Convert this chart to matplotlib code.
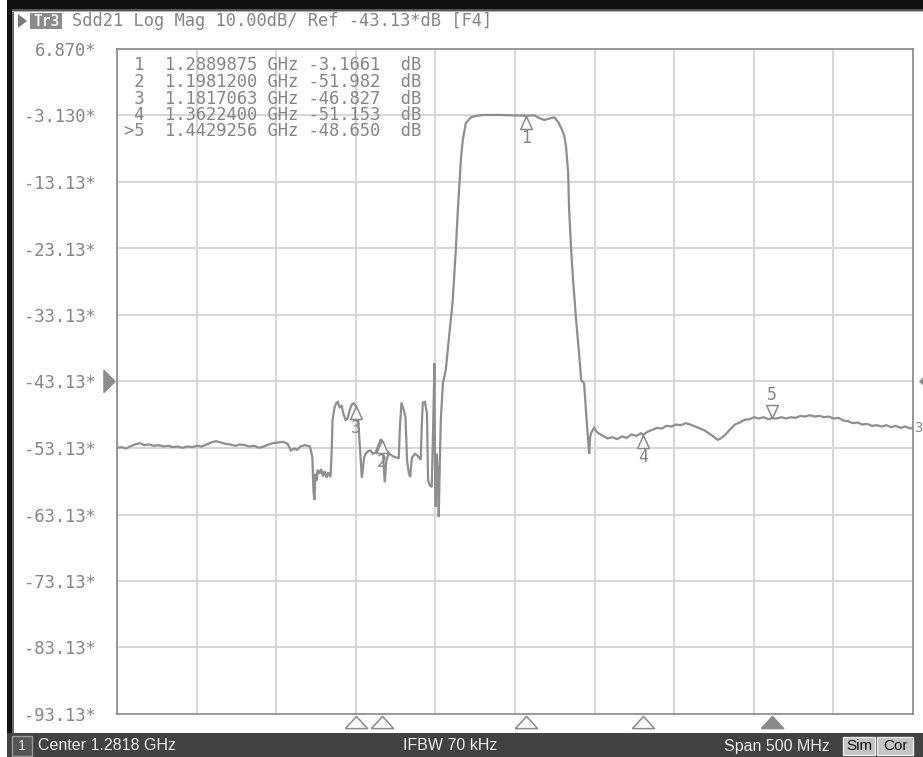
import matplotlib
matplotlib.use("Agg")
import matplotlib.pyplot as plt
from matplotlib.patches import Rectangle, Polygon
from matplotlib.path import Path
import matplotlib.transforms as mtransforms

# ---------------- data ----------------
center_ghz = 1.2818
span_ghz = 0.5
ref_level_db = -43.13
scale_db = 10.0
n_div = 10

trace_freq_ghz = [
    1.0318, 1.0345, 1.0375, 1.0400, 1.0430, 1.0460, 1.0490, 1.0520, 1.0550, 1.0580,
    1.0610, 1.0640, 1.0670, 1.0700, 1.0730, 1.0760, 1.0790, 1.0820, 1.0850, 1.0880,
    1.0910, 1.0940, 1.0970, 1.1000, 1.1030, 1.1060, 1.1090, 1.1120, 1.1150, 1.1180,
    1.1210, 1.1240, 1.1270, 1.1300, 1.1330, 1.1360, 1.1390, 1.1410, 1.1430, 1.1450,
    1.1470, 1.1500, 1.1530, 1.1545, 1.1552, 1.1558, 1.1565, 1.1572, 1.1578, 1.1590,
    1.1600, 1.1612, 1.1622, 1.1634, 1.1645, 1.1659, 1.1666, 1.1672, 1.1685, 1.1697,
    1.1705, 1.1716, 1.1729, 1.1740, 1.1754, 1.1766, 1.1779, 1.1792, 1.1804, 1.1817,
    1.1830, 1.1840, 1.1848, 1.1856, 1.1861, 1.1870, 1.1880, 1.1895, 1.1911, 1.1925,
    1.1943, 1.1962, 1.1974, 1.1981, 1.1990, 1.2000, 1.2010, 1.2025, 1.2040, 1.2056,
    1.2075, 1.2088, 1.2095, 1.2105, 1.2119, 1.2130, 1.2140, 1.2151, 1.2160, 1.2170,
    1.2190, 1.2207, 1.2226, 1.2232, 1.2239, 1.2252, 1.2265, 1.2272, 1.2282, 1.2295,
    1.2302, 1.2308, 1.2312, 1.2316, 1.2320, 1.2326, 1.2332, 1.2339, 1.2346, 1.2352,
    1.2365, 1.2383, 1.2402, 1.2427, 1.2446, 1.2459, 1.2478, 1.2490, 1.2509, 1.2541,
    1.2572, 1.2616, 1.2730, 1.2890, 1.2938, 1.2969, 1.3001, 1.3032, 1.3064, 1.3089,
    1.3108, 1.3127, 1.3139, 1.3152, 1.3158, 1.3171, 1.3183, 1.3202, 1.3221, 1.3234,
    1.3252, 1.3265, 1.3278, 1.3284, 1.3290, 1.3297, 1.3315, 1.3328, 1.3341, 1.3370,
    1.3400, 1.3430, 1.3460, 1.3490, 1.3520, 1.3550, 1.3580, 1.3610, 1.3622, 1.3650,
    1.3680, 1.3710, 1.3740, 1.3770, 1.3800, 1.3830, 1.3860, 1.3890, 1.3920, 1.3950,
    1.3980, 1.4010, 1.4040, 1.4070, 1.4090, 1.4110, 1.4140, 1.4170, 1.4200, 1.4230,
    1.4260, 1.4290, 1.4320, 1.4350, 1.4380, 1.4410, 1.4429, 1.4460, 1.4490, 1.4520,
    1.4550, 1.4580, 1.4610, 1.4640, 1.4670, 1.4700, 1.4730, 1.4760, 1.4790, 1.4820,
    1.4850, 1.4880, 1.4910, 1.4940, 1.4970, 1.5000, 1.5030, 1.5060, 1.5090, 1.5120,
    1.5150, 1.5180, 1.5210, 1.5240, 1.5270, 1.5300, 1.5318,
]
trace_db = [
    -53.1, -53.0, -53.2, -52.9, -52.6, -52.4, -52.7, -52.6, -52.8, -52.7,
    -52.9, -52.8, -53.0, -52.9, -53.1, -52.9, -53.0, -52.8, -52.9, -52.6,
    -52.3, -52.1, -52.3, -52.5, -52.6, -52.8, -52.6, -52.7, -52.9, -52.8,
    -53.1, -52.9, -52.6, -52.4, -52.3, -52.2, -52.5, -53.5, -53.2, -53.4,
    -52.9, -52.7, -52.9, -54.5, -59.5, -60.9, -57.0, -58.0, -56.4, -57.0,
    -56.3, -57.4, -56.6, -57.6, -56.8, -57.5, -54.0, -48.9, -47.0, -46.3,
    -46.2, -47.0, -46.8, -48.0, -48.9, -48.7, -47.5, -46.6, -46.4, -46.8,
    -47.8, -51.5, -54.5, -57.6, -56.5, -54.6, -54.0, -53.6, -53.5, -54.0,
    -53.8, -52.6, -51.9, -51.98, -54.6, -58.3, -55.0, -53.9, -54.2, -54.4,
    -54.6, -54.6, -50.0, -46.3, -47.4, -48.5, -55.0, -56.9, -57.5, -54.6,
    -54.0, -54.3, -54.9, -50.0, -46.3, -46.2, -47.9, -58.0, -58.7, -59.0,
    -52.0, -44.9, -40.4, -58.0, -62.0, -54.0, -56.4, -63.5, -55.0, -48.9,
    -43.4, -41.4, -36.9, -30.9, -23.4, -17.3, -9.8, -6.8, -4.3, -3.4,
    -3.2, -3.05, -3.05, -3.17, -3.1, -3.5, -3.8, -3.6, -3.4, -4.1,
    -5.0, -6.1, -7.9, -11.8, -17.3, -23.4, -27.9, -33.9, -39.1, -42.9,
    -43.4, -48.0, -52.0, -54.0, -51.5, -50.8, -50.1, -50.6, -50.9, -51.3,
    -51.7, -51.5, -51.8, -51.4, -51.6, -51.1, -51.3, -50.9, -51.15, -50.7,
    -50.4, -50.1, -50.2, -49.8, -49.9, -49.6, -49.7, -49.4, -49.6, -49.9,
    -50.2, -50.5, -51.0, -51.5, -51.9, -51.7, -51.1, -50.3, -49.6, -49.3,
    -48.9, -48.8, -48.5, -48.7, -48.5, -48.8, -48.65, -48.7, -48.5, -48.7,
    -48.5, -48.6, -48.3, -48.4, -48.2, -48.4, -48.3, -48.5, -48.4, -48.7,
    -48.6, -49.0, -49.1, -49.4, -49.3, -49.6, -49.5, -49.8, -49.7, -49.9,
    -49.7, -50.0, -49.8, -50.1, -49.9, -50.2, -50.1,
]

marker_ids = ["1", "2", "3", "4", "5"]
marker_freq_ghz = [1.2889875, 1.1981200, 1.1817063, 1.3622400, 1.4429256]
marker_db = [-3.1661, -51.982, -46.827, -51.153, -48.650]
active_marker = "5"

header_text = "Sdd21 Log Mag 10.00dB/ Ref -43.13*dB [F4]"
trace_name = "Tr3"
trace_number = "3"
status_center = "Center 1.2818 GHz"
status_ifbw = "IFBW 70 kHz"
status_span = "Span 500 MHz"
status_flags = ["Sim", "Cor"]
channel_label = "1"

# ---------------- figure ----------------
W, H = 923, 757
fig = plt.figure(figsize=(W / 100, H / 100), dpi=100)
fig.patch.set_facecolor("white")

def fx(x):
    return x / W

def fy(y):
    return 1 - y / H

MONO = ["DejaVu Sans Mono"]
GRAY_TXT = "#858585"

# plot area
ax = fig.add_axes([fx(117), fy(714), 796 / W, 665 / H])
top_db = ref_level_db + scale_db * n_div / 2
bot_db = ref_level_db - scale_db * n_div / 2
f0 = center_ghz - span_ghz / 2
f1 = center_ghz + span_ghz / 2
ax.set_xlim(f0, f1)
ax.set_ylim(bot_db, top_db)

xgrid = [f0 + i * span_ghz / n_div for i in range(n_div + 1)]
ygrid = [top_db - i * scale_db for i in range(n_div + 1)]
ax.set_xticks(xgrid)
ax.set_xticklabels([])
ax.set_yticks(ygrid)
ylabels = []
for v in ygrid:
    s = "%.3f" % v if abs(v) < 10 else "%.2f" % v
    ylabels.append(s + "*")
ax.set_yticklabels(ylabels, family=MONO, fontsize=12.3, color=GRAY_TXT)
ax.tick_params(axis="both", length=0, pad=15)
ax.grid(True, color="#d3d3d3", lw=1.3)
ax.set_axisbelow(True)
for sp in ax.spines.values():
    sp.set_color("#8a8a8a")
    sp.set_linewidth(1.2)

ax.plot(trace_freq_ghz, trace_db, color="#8e8e8e", lw=1.6, zorder=3, solid_joinstyle="miter")

# markers on trace
tri_up = Path([(0, 0), (-0.45, -1), (0.45, -1), (0, 0)])
tri_dn = Path([(0, 0), (-0.45, 1), (0.45, 1), (0, 0)])
px2pt = 72 / 100
for mid, mf, md in zip(marker_ids, marker_freq_ghz, marker_db):
    if mid == active_marker:
        ax.plot([mf], [md], marker=tri_dn, ms=18.7, mfc="white", mec="#8a8a8a", mew=1.1,
                zorder=5, clip_on=False)
        ax.annotate(mid, (mf, md), xytext=(0, 23 * px2pt), textcoords="offset points",
                    ha="center", va="center", family=MONO, fontsize=12, color=GRAY_TXT, zorder=6)
    else:
        ax.plot([mf], [md], marker=tri_up, ms=18.7, mfc="white", mec="#8a8a8a", mew=1.1,
                zorder=5, clip_on=False)
        ax.annotate(mid, (mf, md), xytext=(0, -22 * px2pt), textcoords="offset points",
                    ha="center", va="center", family=MONO, fontsize=12, color=GRAY_TXT, zorder=6)

# stimulus-axis marker triangles below the grid
bt = mtransforms.blended_transform_factory(ax.transData, ax.transAxes)
flat_tri = Path([(-1, -0.55), (1, -0.55), (0, 0.55), (-1, -0.55)])
for mid, mf in zip(marker_ids, marker_freq_ghz):
    filled = (mid == active_marker)
    ax.plot([mf], [-8 / 665], marker=flat_tri, ms=16, transform=bt, clip_on=False,
            mfc="#8a8a8a" if filled else "white", mec="#8a8a8a", mew=1.1, zorder=5)

# reference level arrows
bt2 = mtransforms.blended_transform_factory(ax.transAxes, ax.transData)
arr_r = Path([(-0.5, -1), (0.5, 0), (-0.5, 1), (-0.5, -1)])
arr_l = Path([(0.5, -1), (-0.5, 0), (0.5, 1), (0.5, -1)])
ax.plot([-8 / 796], [ref_level_db], marker=arr_r, ms=16, transform=bt2, clip_on=False,
        mfc="#8c8c8c", mec="#8c8c8c", zorder=5)
ax.plot([(925 - 117) / 796], [ref_level_db], marker=arr_l, ms=16, transform=bt2, clip_on=False,
        mfc="#8c8c8c", mec="#8c8c8c", zorder=5)
# trace number at end of trace
ax.annotate(trace_number, (f1, trace_db[-1]), xytext=(0.5, 0), textcoords="offset points",
            ha="left", va="center", family=MONO, fontsize=10, color=GRAY_TXT,
            annotation_clip=False)

# marker table
for i, (mid, mf, md) in enumerate(zip(marker_ids, marker_freq_ghz, marker_db)):
    prefix = ">" if mid == active_marker else " "
    if abs(md) < 10:
        vs = "%.4f" % md
    else:
        vs = "%.3f" % md
    row = "%s%s  %.7f GHz %s  dB" % (prefix, mid, mf, vs)
    fig.text(fx(124), fy(65.5 + i * 16.5), row, family=MONO, fontsize=12.3, color=GRAY_TXT,
             ha="left", va="center")

# ---------------- frame decorations ----------------
def rect(x0, y0, x1, y1, fc, ec="none", lw=0, z=0):
    r = Rectangle((fx(x0), fy(y1)), (x1 - x0) / W, (y1 - y0) / H, transform=fig.transFigure,
                  facecolor=fc, edgecolor=ec, lw=lw, zorder=z)
    fig.patches.append(r)

# top dark bar
rect(7, 0, 923, 9, "#111111")
rect(7, 9, 923, 11, "#555555")
rect(7, 11, 923, 12, "#b0b0b0")
# left dark band
rect(7, 0, 12, 757, "#111111")
rect(12, 12, 14, 733, "#6a6a6a")
# status bar
rect(7, 733, 923, 757, "#424242")
rect(12, 736, 32, 756, "#555555", ec="#9a9a9a", lw=1)
fig.text(fx(22), fy(746), channel_label, color="#eeeeee", fontsize=10.5,
         family=["Liberation Sans"], ha="center", va="center")
fig.text(fx(38), fy(746), status_center, color="#eeeeee", fontsize=11.5,
         family=["Liberation Sans"], ha="left", va="center")
fig.text(fx(450), fy(746), status_ifbw, color="#eeeeee", fontsize=11.5,
         family=["Liberation Sans"], ha="center", va="center")
fig.text(fx(830), fy(746), status_span, color="#eeeeee", fontsize=11.5,
         family=["Liberation Sans"], ha="right", va="center")
flag_x = [(843, 875), (877, 913)]
for (xa, xb), fl in zip(flag_x, status_flags):
    rect(xa, 737, xb, 755, "#c4c4c4", ec="#eeeeee", lw=1)
    fig.text(fx((xa + xb) / 2), fy(746), fl, color="#111111", fontsize=11,
             family=["Liberation Sans"], ha="center", va="center")

# header
tri = Polygon([(fx(18), fy(14)), (fx(18), fy(28)), (fx(27), fy(21))], closed=True,
              transform=fig.transFigure, facecolor="#7a7a7a", edgecolor="none")
fig.patches.append(tri)
rect(30, 13, 62, 29, "#8a8a8a")
fig.text(fx(46), fy(21), trace_name, color="#eeeeee", fontsize=10.5, family=MONO,
         weight="bold", ha="center", va="center")
fig.text(fx(72), fy(21), header_text, color=GRAY_TXT, fontsize=12.3, family=MONO,
         ha="left", va="center")

fig.savefig("out.png", dpi=100)
